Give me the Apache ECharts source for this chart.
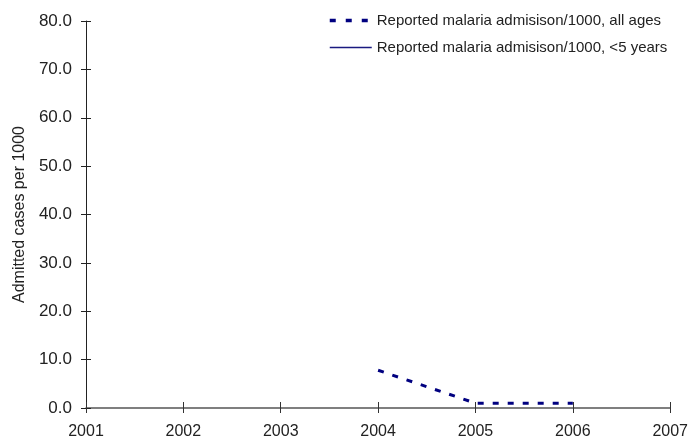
<!DOCTYPE html>
<html>
<head>
<meta charset="utf-8">
<script src="https://cdn.jsdelivr.net/npm/echarts@6/dist/echarts.min.js"></script>
<style>html,body{margin:0;padding:0;background:#fff}#c{width:691px;height:443px}</style>
</head>
<body>
<div id="c"></div>
<script>
const years = [2001, 2002, 2003, 2004, 2005, 2006, 2007];
const allAges = [null, null, null, 7.8, 1.0, 1.0, null];
const under5 = [null, null, null, null, null, null, null];
const seriesNames = ['Reported malaria admisison/1000, all ages', 'Reported malaria admisison/1000, <5 years'];
const yTicks = [0, 10, 20, 30, 40, 50, 60, 70, 80];
const yName = 'Admitted cases per 1000';

const FONT = 'Liberation Sans';
const chart = echarts.init(document.getElementById('c'));
const pairs = a => years.map((y, i) => [y, a[i]]);
const xBase = {type: 'value', min: years[0], max: years[years.length - 1], interval: 1, splitLine: {show: false}};
const yBase = {type: 'value', min: yTicks[0], max: yTicks[yTicks.length - 1], interval: 10, splitLine: {show: false}};
chart.setOption({
  animation: false,
  textStyle: {fontFamily: FONT},
  grid: {left: 86, right: 18, top: 21, bottom: 35},
  legend: {
    orient: 'vertical', left: 323, top: 8, itemWidth: 42, itemHeight: 14, itemGap: 12,
    textStyle: {fontSize: 15, color: '#222', fontFamily: FONT},
    itemStyle: {opacity: 0},
    data: [
      {name: seriesNames[0], lineStyle: {width: 3.5, type: [6, 10]}},
      {name: seriesNames[1], lineStyle: {width: 1.5}}
    ]
  },
  xAxis: [
    Object.assign({}, xBase, {
      axisLine: {lineStyle: {color: '#555', width: 1.5}},
      axisTick: {length: 5, lineStyle: {color: '#333'}},
      axisLabel: {fontSize: 16, color: '#222', margin: 16, formatter: v => String(v)}
    }),
    Object.assign({}, xBase, {
      position: 'bottom',
      axisLine: {show: false},
      axisTick: {inside: true, length: 6, lineStyle: {color: '#333'}},
      axisLabel: {show: false}
    })
  ],
  yAxis: [
    Object.assign({}, yBase, {
      name: yName, nameLocation: 'middle', nameGap: 58, nameRotate: 90,
      nameTextStyle: {fontSize: 16, color: '#222', fontFamily: FONT},
      axisLine: {lineStyle: {color: '#222', width: 1}},
      axisTick: {length: 5, lineStyle: {color: '#222'}},
      axisLabel: {fontSize: 17, color: '#222', margin: 14, formatter: v => v.toFixed(1)}
    }),
    Object.assign({}, yBase, {
      position: 'left',
      axisLine: {show: false},
      axisTick: {inside: true, length: 5, lineStyle: {color: '#222'}},
      axisLabel: {show: false}
    })
  ],
  series: [
    {name: seriesNames[0], type: 'line', data: pairs(allAges), symbol: 'none', connectNulls: false,
     itemStyle: {color: '#000080'},
     lineStyle: {color: '#000080', width: 3, type: [6, 9]}},
    {name: seriesNames[1], type: 'line', data: pairs(under5), symbol: 'none',
     itemStyle: {color: '#1a1a80'},
     lineStyle: {color: '#1a1a80', width: 1.2, type: 'solid'}}
  ]
});
</script>
</body>
</html>
